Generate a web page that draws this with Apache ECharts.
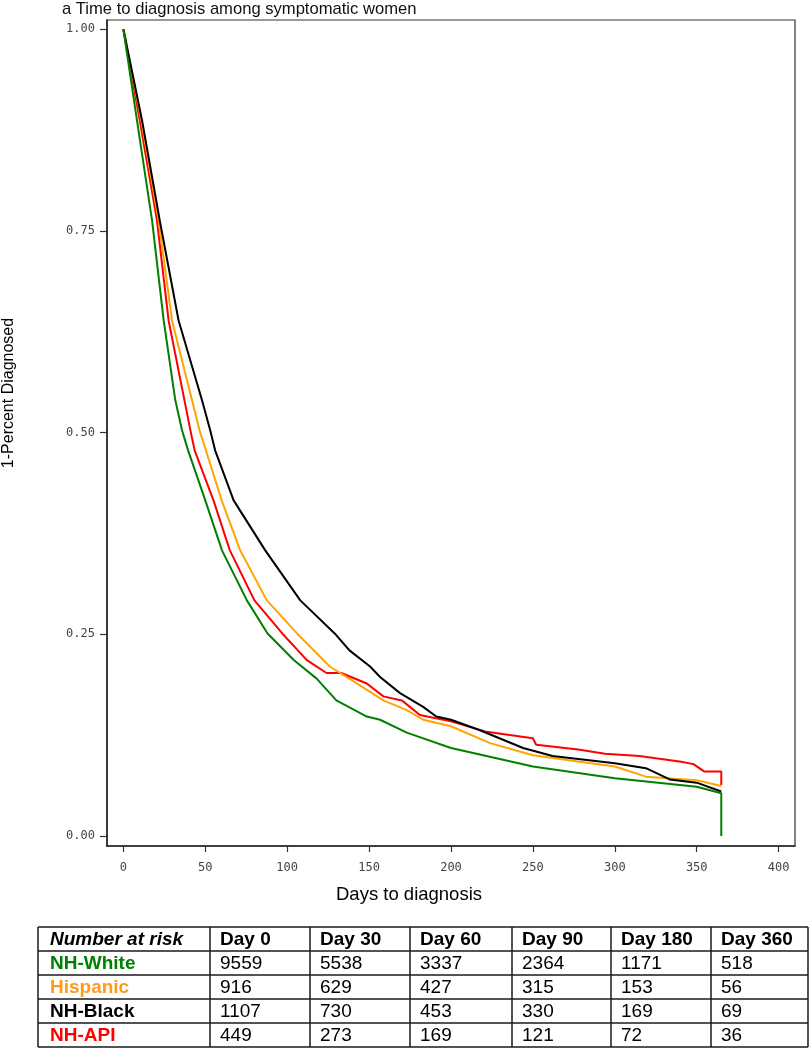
<!DOCTYPE html>
<html>
<head>
<meta charset="utf-8">
<script src="https://cdn.jsdelivr.net/npm/echarts@6/dist/echarts.min.js"></script>
<style>
html,body{margin:0;padding:0;background:#fff;}
#chart{width:812px;height:1050px;}
</style>
</head>
<body>
<div id="chart"></div>
<script>
// ---- data ----
const seriesNames = ['NH-White', 'Hispanic', 'NH-Black', 'NH-API'];

const whiteDays = [0, 8.3, 17.5, 24.6, 31.7, 35.8, 39.5, 50, 60.2, 75.4, 88, 104, 118, 130, 148.6, 156.7, 173, 200, 250, 300, 350, 365, 365];
const whiteSurv = [1.00, 0.887, 0.763, 0.639, 0.540, 0.503, 0.478, 0.416, 0.354, 0.292, 0.251, 0.218, 0.195, 0.168, 0.148, 0.144, 0.128, 0.109, 0.086, 0.0715, 0.061, 0.053, 0.0];

const hispDays = [0, 11, 21.5, 29.7, 46.5, 60, 71.3, 87.6, 106, 126, 142.5, 158.7, 173, 183, 200, 223.8, 250, 278.7, 300, 319, 350, 365];
const hispSurv = [1.00, 0.887, 0.763, 0.639, 0.503, 0.416, 0.354, 0.292, 0.251, 0.210, 0.189, 0.168, 0.156, 0.144, 0.136, 0.115, 0.100, 0.092, 0.086, 0.0735, 0.069, 0.062];

const blackDays = [0, 11.4, 22.2, 33.7, 48, 53, 56, 67.3, 86.6, 108, 129, 138, 150.6, 156.7, 168.9, 183, 191, 200, 217.7, 244, 262, 300, 319, 333.5, 350, 365];
const blackSurv = [1.00, 0.887, 0.763, 0.639, 0.540, 0.503, 0.478, 0.416, 0.354, 0.292, 0.251, 0.230, 0.210, 0.197, 0.177, 0.160, 0.148, 0.144, 0.131, 0.109, 0.099, 0.090, 0.084, 0.070, 0.066, 0.055];

const apiDays = [0, 10, 20.5, 27.6, 40.9, 43.5, 55, 65, 80, 97, 112, 124, 133, 148.6, 158.7, 170, 181, 200, 221.7, 250, 252, 277.6, 294, 315, 340.6, 348, 354.5, 365, 365];
const apiSurv = [1.00, 0.887, 0.763, 0.639, 0.503, 0.478, 0.416, 0.354, 0.292, 0.251, 0.218, 0.202, 0.202, 0.189, 0.173, 0.168, 0.150, 0.142, 0.129, 0.121, 0.113, 0.107, 0.102, 0.099, 0.092, 0.089, 0.080, 0.080, 0.063];

const xTicks = [0, 50, 100, 150, 200, 250, 300, 350, 400];
const yTicks = [0, 0.25, 0.5, 0.75, 1.0];

const tableHeader = ['Number at risk', 'Day 0', 'Day 30', 'Day 60', 'Day 90', 'Day 180', 'Day 360'];
const riskWhite = [9559, 5538, 3337, 2364, 1171, 518];
const riskHisp  = [916, 629, 427, 315, 153, 56];
const riskBlack = [1107, 730, 453, 330, 169, 69];
const riskApi   = [449, 273, 169, 121, 72, 36];

// ---- styling ----
const colors = {'NH-White': '#008000', 'Hispanic': '#FFA500', 'NH-Black': '#000000', 'NH-API': '#FF0000'};
const labelColors = {'NH-White': '#008000', 'Hispanic': '#FF9A1A', 'NH-Black': '#000000', 'NH-API': '#FF0000'};

function zip(a, b) { return a.map((v, i) => [v, b[i]]); }
const curveData = {
  'NH-White': zip(whiteDays, whiteSurv),
  'Hispanic': zip(hispDays, hispSurv),
  'NH-Black': zip(blackDays, blackSurv),
  'NH-API': zip(apiDays, apiSurv)
};
const riskRows = [riskWhite, riskHisp, riskBlack, riskApi];

const drawOrder = ['NH-API', 'Hispanic', 'NH-Black', 'NH-White'];
const series = drawOrder.map(name => ({
  name: name,
  type: 'line',
  data: curveData[name],
  showSymbol: false,
  symbol: 'none',
  lineStyle: {color: colors[name], width: 2},
  itemStyle: {color: colors[name]},
  animation: false,
  z: 3
}));

// ---- table as graphic elements ----
const colX = [38, 210, 310, 410, 512, 611, 711, 808];
const rowY = [927, 951, 975, 999, 1023, 1047];
const graphics = [];
const tableFont = '"Liberation Sans", Arial, sans-serif';
for (let r = 0; r < rowY.length; r++) {
  graphics.push({type: 'line', shape: {x1: colX[0], y1: rowY[r], x2: colX[colX.length - 1], y2: rowY[r]},
    style: {stroke: '#1a1a1a', lineWidth: 1.5}, silent: true});
}
for (let c = 0; c < colX.length; c++) {
  graphics.push({type: 'line', shape: {x1: colX[c], y1: rowY[0], x2: colX[c], y2: rowY[rowY.length - 1]},
    style: {stroke: '#1a1a1a', lineWidth: 1.5}, silent: true});
}
tableHeader.forEach((h, c) => {
  graphics.push({type: 'text', x: colX[c] + (c === 0 ? 12 : 10), y: (rowY[0] + rowY[1]) / 2 + 1,
    style: {text: h, fill: '#000', font: (c === 0 ? 'italic bold ' : 'bold ') + '19px ' + tableFont, textVerticalAlign: 'middle', textAlign: 'left'}, silent: true});
});
seriesNames.forEach((name, r) => {
  const yc = (rowY[r + 1] + rowY[r + 2]) / 2 + 1;
  graphics.push({type: 'text', x: colX[0] + 12, y: yc,
    style: {text: name, fill: labelColors[name], font: 'bold 19px ' + tableFont, textVerticalAlign: 'middle', textAlign: 'left'}, silent: true});
  riskRows[r].forEach((v, c) => {
    graphics.push({type: 'text', x: colX[c + 1] + 10, y: yc,
      style: {text: String(v), fill: '#000', font: '19px ' + tableFont, textVerticalAlign: 'middle', textAlign: 'left'}, silent: true});
  });
});
// axis names
graphics.push({type: 'text', x: 409, y: 895,
  style: {text: 'Days to diagnosis', fill: '#000', font: '18.5px ' + tableFont, textAlign: 'center', textVerticalAlign: 'middle'}, silent: true});
graphics.push({type: 'text', x: 9, y: 393, rotation: Math.PI / 2,
  style: {text: '1-Percent Diagnosed', fill: '#000', font: '16px ' + tableFont, textAlign: 'center', textVerticalAlign: 'middle'}, silent: true});

const chart = echarts.init(document.getElementById('chart'), null, {renderer: 'canvas'});
chart.setOption({
  animation: false,
  backgroundColor: '#fff',
  title: {
    text: 'a Time to diagnosis among symptomatic women',
    left: 57, top: -4,
    textStyle: {fontSize: 16.6, fontWeight: 'normal', color: '#111', fontFamily: 'Liberation Sans, Arial, sans-serif'}
  },
  grid: {left: 107, right: 17, top: 20, bottom: 204, show: true, borderColor: '#333', borderWidth: 1.2, containLabel: false},
  xAxis: {
    type: 'value', min: -10, max: 410,
    axisLine: {show: true, onZero: false, lineStyle: {color: '#222', width: 1.5}},
    axisTick: {show: true, length: 6, customValues: xTicks, lineStyle: {color: '#333', width: 1.2}},
    axisLabel: {customValues: xTicks, margin: 16, fontSize: 12, color: '#444', fontFamily: 'DejaVu Sans Mono, monospace'},
    splitLine: {show: false}
  },
  yAxis: {
    type: 'value', min: -0.0125, max: 1.0115,
    axisLine: {show: true, onZero: false, lineStyle: {color: '#222', width: 1.5}},
    axisTick: {show: true, length: 7, customValues: yTicks, lineStyle: {color: '#333', width: 1.2}},
    axisLabel: {customValues: yTicks, margin: 12, fontSize: 12, color: '#444', fontFamily: 'DejaVu Sans Mono, monospace',
      formatter: v => v.toFixed(2)},
    splitLine: {show: false}
  },
  series: series,
  graphic: graphics
});
</script>
</body>
</html>
